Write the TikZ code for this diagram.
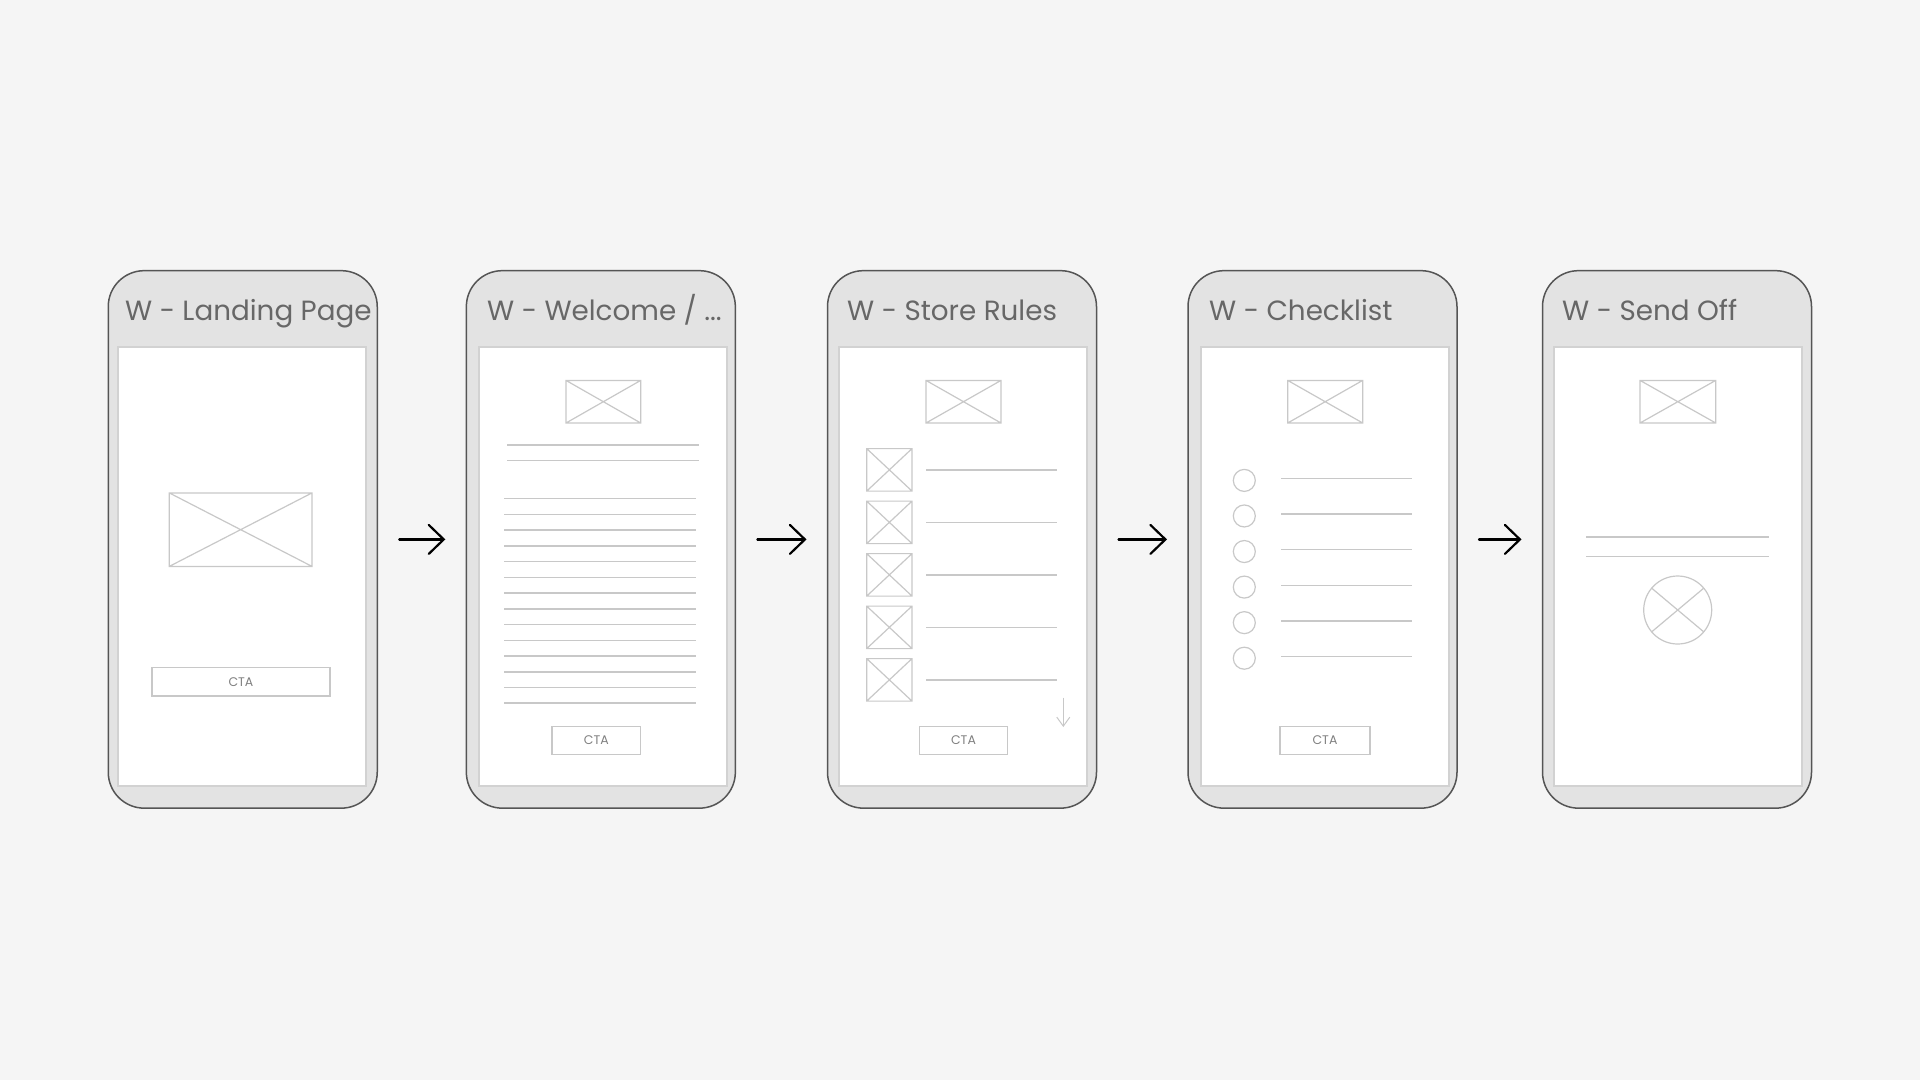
\documentclass[tikz,border=0pt]{standalone}
\usepackage{fontspec}
\setmainfont{Poppins}
\usetikzlibrary{arrows.meta}
\definecolor{bgc}{HTML}{F5F5F5}
\definecolor{phonefill}{HTML}{E3E3E3}
\definecolor{phoneline}{HTML}{555555}
\definecolor{scrline}{HTML}{D2D2D2}
\definecolor{wirec}{HTML}{C8C8C8}
\definecolor{titlec}{HTML}{676767}
\definecolor{ctac}{HTML}{808080}
\newcommand\wfimg[4]{\draw[wireln] (#1,#2) rectangle (#3,#4) (#1,#2) -- (#3,#4) (#1,#4) -- (#3,#2);}
\begin{document}
\begin{tikzpicture}[x=1pt,y=-1pt,
  phone/.style={draw=phoneline, line width=1.5pt, fill=phonefill, rounded corners=36pt,
    minimum width=269pt, minimum height=537.5pt, inner sep=0pt, outer sep=0pt},
  screenbox/.style={draw=scrline, line width=2pt, fill=white, minimum width=248pt,
    minimum height=438.9pt, inner sep=0pt, outer sep=0pt},
  title/.style={anchor=base west, text=titlec, font=\fontsize{27.8}{28}\selectfont, inner sep=0pt},
  cta/.style={draw=wirec, line width=1.2pt, fill=white, inner sep=0pt, minimum height=28.5pt,
    font=\fontsize{12.5}{12.5}\selectfont, text=ctac},
  wireln/.style={draw=wirec, line width=1.2pt},
  textln/.style={draw=wirec, line width=1.5pt},
  flow/.style={line width=2.2pt, line cap=round, -{Straight Barb[length=15pt,width=29pt,line cap=round]},
    shorten <=22pt, shorten >=21pt}
]
\fill[bgc] (0,0) rectangle (1920,1080);
\useasboundingbox (0,0) rectangle (1920,1080);

% phones
\node[phone] (p1) at (242.75,539.4) {};
\node[phone] (p2) at (600.85,539.4) {};
\node[phone] (p3) at (962,539.4) {};
\node[phone] (p4) at (1322.5,539.4) {};
\node[phone] (p5) at (1677,539.4) {};

% screens
\node[screenbox] (s1) at (241.5,566.25) {};
\node[screenbox] (s2) at (603,566.25) {};
\node[screenbox] (s3) at (963,566.25) {};
\node[screenbox] (s4) at (1325,566.25) {};
\node[screenbox] (s5) at (1677.5,566.25) {};

% titles
\node[title] (t1) at (125,320) {W - Landing Page};
\node[title] (t2) at (487,320) {W - Welcome / ...};
\node[title] (t3) at (847,320) {W - Store Rules};
\node[title] (t4) at (1209,320) {W - Checklist};
\node[title] (t5) at (1562,320) {W - Send Off};

% flow arrows
\draw[flow] (p1) -- (p2);
\draw[flow] (p2) -- (p3);
\draw[flow] (p3) -- (p4);
\draw[flow] (p4) -- (p5);

% --- screen 1: landing page
\wfimg{169.3}{492.9}{312}{566.4}
\node[cta, minimum width=178pt] (c1) at (241,681.7) {CTA};

% --- screen 2: welcome
\wfimg{566}{380.4}{640.7}{423}
\draw[textln] (507.3,445) -- (698.7,445);
\draw[textln] (507.3,460.7) -- (698.7,460.7);
\foreach \i in {0,...,13}{
  \draw[textln] (504.3,498.6+15.74*\i) -- (695.7,498.6+15.74*\i);
}
\node[cta, minimum width=88.7pt] (c2) at (596.3,740.5) {CTA};

% --- screen 3: store rules
\wfimg{926}{380.4}{1001}{423}
\foreach \i in {0,...,4}{
  \wfimg{866.7}{448.6+52.5*\i}{912}{491.1+52.5*\i}
  \draw[textln] (926,469.9+52.5*\i) -- (1057.3,469.9+52.5*\i);
}
\coordinate (dA) at (1063.3,697.5);
\coordinate (dB) at (1063.3,727);
\draw[draw=wirec, line width=1pt, -{Straight Barb[length=9pt,width=13pt]}] (dA) -- (dB);
\node[cta, minimum width=88.4pt] (c3) at (963.5,740.5) {CTA};

% --- screen 4: checklist
\wfimg{1287.7}{380.4}{1362.7}{423}
\foreach \i in {0,...,5}{
  \draw[wireln] (1244.3,480.4+35.56*\i) circle[radius=11pt];
  \draw[textln] (1281,478.6+35.56*\i) -- (1412.3,478.6+35.56*\i);
}
\node[cta, minimum width=90pt] (c4) at (1325,740.5) {CTA};

% --- screen 5: send off
\wfimg{1640}{380.4}{1715.7}{423}
\draw[textln] (1586,537) -- (1769.3,537);
\draw[textln] (1586,556.4) -- (1769.3,556.4);
\draw[wireln] (1677.7,610) circle[radius=34pt];
\draw[wireln] (1677.7,610) ++(140:34pt) -- ++(-40:68pt);
\draw[wireln] (1677.7,610) ++(40:34pt) -- ++(220:68pt);
\end{tikzpicture}
\end{document}
